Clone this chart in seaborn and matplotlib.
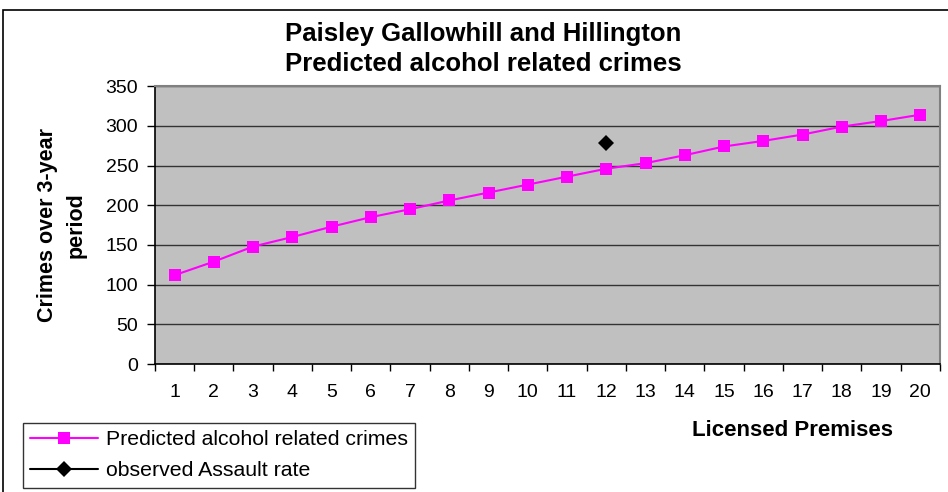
import matplotlib.pyplot as plt
import matplotlib.patches as mpatches
import pandas as pd
import seaborn as sns

# values
premises = list(range(1, 21))
predicted = [112, 129, 148, 160, 173, 185, 195, 206, 216, 226,
             236, 246, 253, 263, 274, 281, 289, 299, 306, 314]
observed_x = [12]
observed_y = [278]

pred = pd.DataFrame({"Licensed Premises": premises, "crimes": predicted})
obs = pd.DataFrame({"Licensed Premises": observed_x, "crimes": observed_y})

sns.set_style("white")
plt.rcParams["font.family"] = ["Liberation Sans", "DejaVu Sans"]
plt.rcParams.update({"text.color": "black", "axes.labelcolor": "black",
                     "xtick.color": "black", "ytick.color": "black"})

fig = plt.figure(figsize=(9.48, 4.92), dpi=100)
ax = fig.add_axes([0.1635, 0.26, 0.828, 0.565])
ax.set_facecolor("#C0C0C0")

# outer chart border
fig.patches.append(mpatches.Rectangle((3 / 948, -0.05), 1.0, 1 - 10 / 492 + 0.05,
                                      transform=fig.transFigure, fill=False,
                                      edgecolor="black", linewidth=1.2))

sns.lineplot(data=pred, x="Licensed Premises", y="crimes", ax=ax,
             color="#FF00FF", marker="s", markersize=9, markeredgewidth=0,
             linewidth=1.5, label="Predicted alcohol related crimes")
sns.lineplot(data=obs, x="Licensed Premises", y="crimes", ax=ax,
             color="black", marker="D", markersize=8, markeredgewidth=0,
             linewidth=1.5, label="observed Assault rate")

ax.set_xlim(0.5, 20.5)
ax.set_ylim(0, 350)
ax.set_yticks(range(0, 351, 50))
ax.set_xticks(premises)
ax.set_xticks([p + 0.5 for p in range(0, 21)], minor=True)
ax.tick_params(axis="x", which="major", length=0, labelsize=14, pad=14,
               labelcolor="black")
ax.tick_params(axis="x", which="minor", length=5, width=1, color="black",
               direction="out", bottom=True)
ax.tick_params(axis="y", length=6, width=1, color="black", direction="out",
               left=True, labelsize=14, pad=6, labelcolor="black")
ax.grid(axis="y", color="#333333", linewidth=1)
ax.set_axisbelow(True)
for side in ["top", "right"]:
    ax.spines[side].set_color("#808080")
    ax.spines[side].set_linewidth(1.5)
for side in ["left", "bottom"]:
    ax.spines[side].set_color("black")
    ax.spines[side].set_linewidth(1.2)

fig.text(483 / 948, 1 - 49 / 492,
         "Paisley Gallowhill and Hillington\nPredicted alcohol related crimes",
         fontsize=18.5, fontweight="bold", linespacing=1.3,
         ha="center", va="center", color="black")
ax.set_ylabel("")
fig.text(62 / 948, 1 - 225 / 492, "Crimes over 3-year\nperiod", fontsize=15.5,
         fontweight="bold", rotation=90, linespacing=1.45,
         ha="center", va="center", color="black")
ax.set_xlabel("")
fig.text(793 / 948, 1 - 431 / 492, "Licensed Premises", fontsize=16,
         fontweight="bold", ha="center", va="center", color="black")

leg = ax.legend(loc="upper left", bbox_to_anchor=(23 / 948, 1 - 423 / 492),
                bbox_transform=fig.transFigure, fontsize=15.3, frameon=True,
                fancybox=False, edgecolor="black", handlelength=3.2,
                handletextpad=0.35, borderpad=0.35, labelspacing=0.55,
                borderaxespad=0)
leg.get_frame().set_linewidth(1)
for t in leg.get_texts():
    t.set_color("black")

fig.savefig("out.png", dpi=100)
